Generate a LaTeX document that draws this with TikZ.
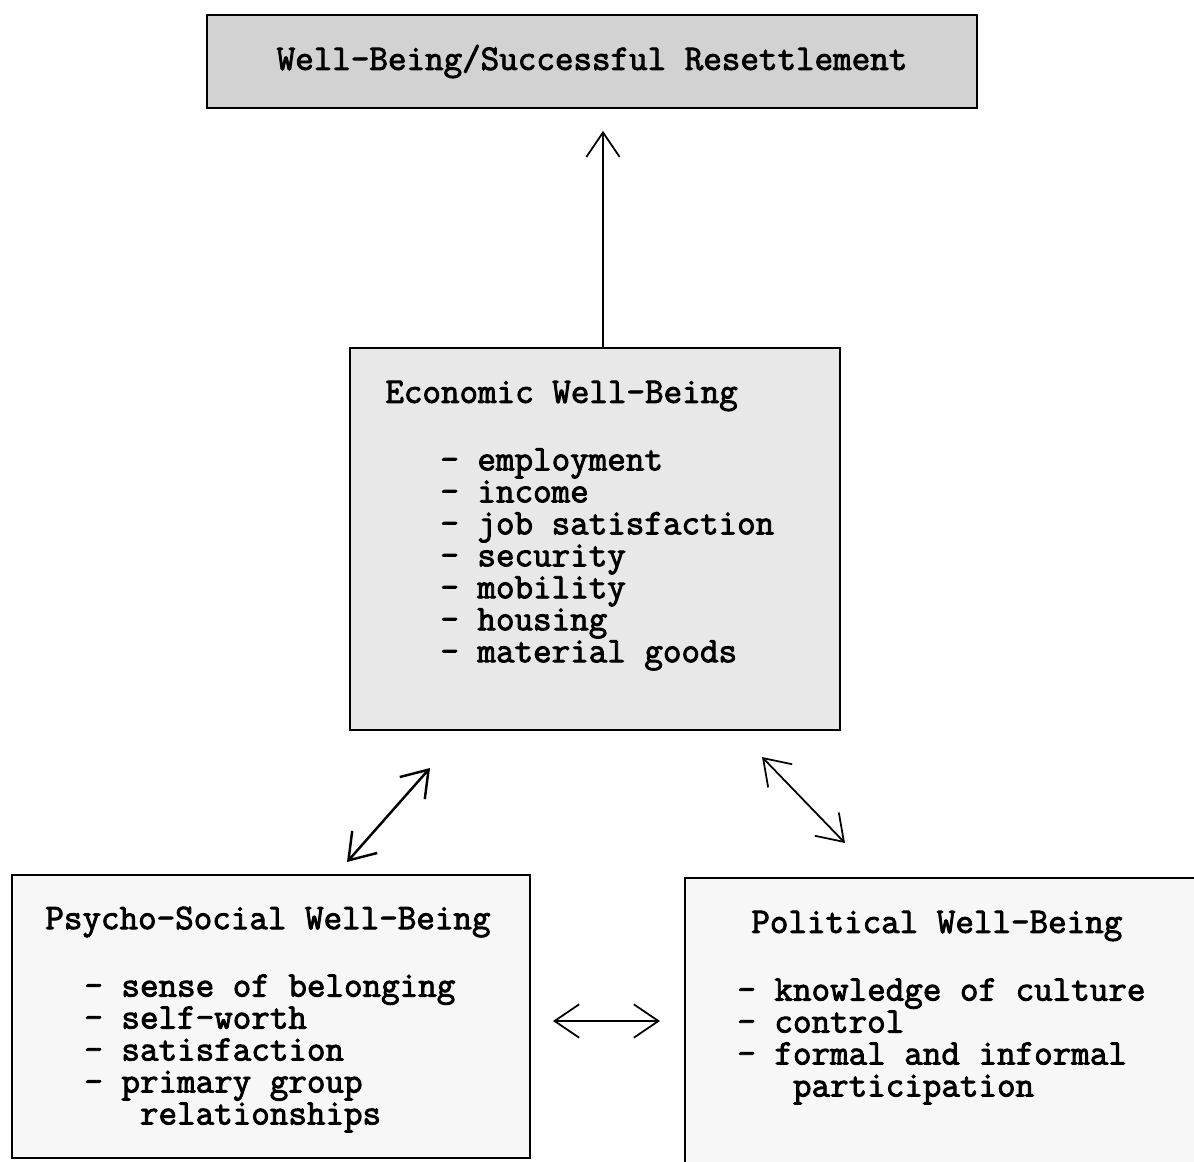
\documentclass[tikz,border=0pt]{standalone}
\usepackage{fontspec}
\newfontfamily\boxfont{Latin Modern Mono}[FakeBold=2.5]
\usetikzlibrary{arrows.meta}

\begin{document}
\begin{tikzpicture}[x=0.02cm,y=-0.02cm,
  panel/.style={draw,line width=1pt,inner sep=0pt},
  words/.style={inner sep=0pt,align=left,font=\boxfont\fontsize{20.5}{18.2}\selectfont},
  barb/.style={line width=1pt,-{Straight Barb[length=14pt,width=19pt]}},
  twoway/.style={line width=1pt,{Straight Barb[length=14pt,width=19pt]}-{Straight Barb[length=14pt,width=19pt]}}]
\useasboundingbox (0,0) rectangle (1194,1161);

% boxes
\node[panel,words,fill=gray!35,minimum width=15.4cm,minimum height=1.86cm] (goal) at (592,61.5) {Well-Being/Successful Resettlement};
\node[panel,fill=gray!18,minimum width=9.8cm,minimum height=7.64cm] (econ) at (595,539) {};
\node[panel,fill=gray!6,minimum width=10.36cm,minimum height=5.66cm] (psych) at (271,1016.5) {};
\node[panel,fill=gray!6,minimum width=10.3cm,minimum height=5.84cm] (polit) at (942.5,1024) {};

% titles
\node[words,anchor=west] (econtitle) at (385,396) {Economic Well-Being};
\node[words,anchor=west] (psychtitle) at (45,922) {Psycho-Social Well-Being};
\node[words,anchor=west] (polittitle) at (751,926) {Political Well-Being};

% lists
\node[words,anchor=north west] (econlist) at (440,448) {- employment\\- income\\- job satisfaction\\- security\\- mobility\\- housing\\- material goods};
\node[words,anchor=north west] (psychlist) at (84,974) {- sense of belonging\\- self-worth\\- satisfaction\\- primary group\\\hphantom{xxx}relationships};
\node[words,anchor=north west] (politlist) at (737,978) {- knowledge of culture\\- control\\- formal and informal\\\hphantom{xxx}participation};

% connectors
\coordinate (psychend) at (347,862);
\coordinate (econleft) at (430,768);
\coordinate (econright) at (762,757);
\coordinate (politend) at (845,843);
\coordinate (psychside) at (553,1021);
\coordinate (politside) at (660,1021);

\draw[barb] ([xshift=0.16cm]econ.north) -- ([xshift=0.22cm,yshift=-0.44cm]goal.south);
\draw[twoway,line width=1.4pt] (psychend) -- (econleft);
\draw[twoway] (econright) -- (politend);
\draw[twoway] (psychside) -- (politside);

\end{tikzpicture}
\end{document}
